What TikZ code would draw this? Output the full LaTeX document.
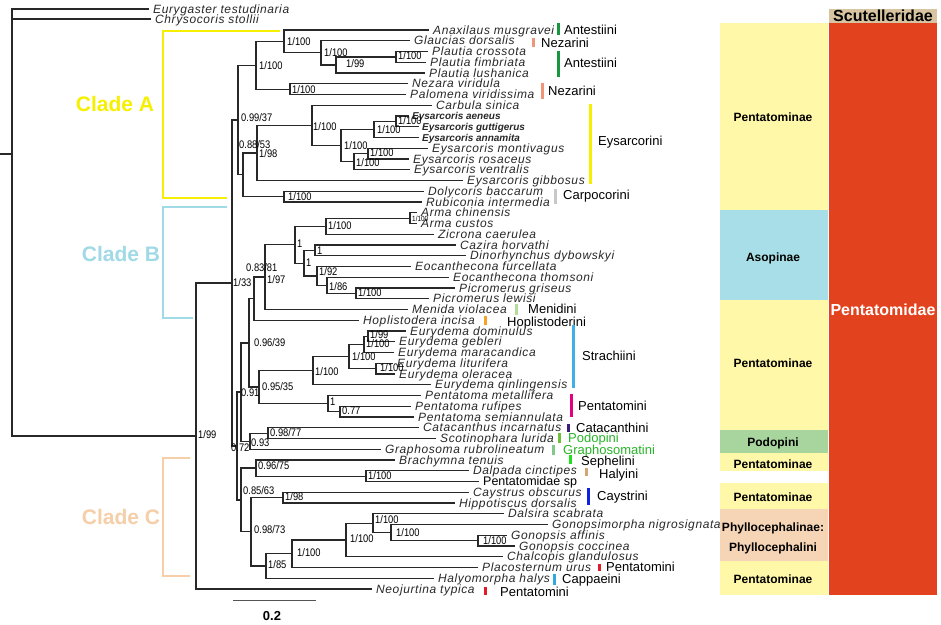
\documentclass[tikz,border=0pt]{standalone}
\usepackage{fontspec}
\setmainfont{Liberation Sans}
\newfontfamily\taxfont[LetterSpace=5]{Liberation Sans}
\newfontfamily\supfont[FakeStretch=0.85]{Liberation Sans}
\definecolor{brc}{RGB}{40,40,40}
\definecolor{txc}{RGB}{40,40,40}
\definecolor{cladeAc}{RGB}{246,240,0}
\definecolor{cladeBc}{RGB}{160,218,230}
\definecolor{cladeCc}{RGB}{246,206,168}
\definecolor{antg}{RGB}{26,150,65}
\definecolor{nezs}{RGB}{240,150,120}
\definecolor{eysy}{RGB}{246,240,0}
\definecolor{carg}{RGB}{200,200,200}
\definecolor{meng}{RGB}{182,220,154}
\definecolor{hopo}{RGB}{245,160,40}
\definecolor{strb}{RGB}{62,176,230}
\definecolor{penm}{RGB}{228,0,126}
\definecolor{catp}{RGB}{58,30,122}
\definecolor{podbar}{RGB}{110,190,60}
\definecolor{grabar}{RGB}{130,200,140}
\definecolor{sepg}{RGB}{30,225,30}
\definecolor{halt}{RGB}{210,168,112}
\definecolor{cayb}{RGB}{16,32,224}
\definecolor{redp}{RGB}{226,26,43}
\definecolor{capb}{RGB}{48,168,224}
\definecolor{gtext}{RGB}{40,180,40}
\definecolor{pyel}{RGB}{255,248,168}
\definecolor{asob}{RGB}{168,222,232}
\definecolor{podbox}{RGB}{168,212,158}
\definecolor{phyl}{RGB}{246,212,182}
\definecolor{scut}{RGB}{216,196,160}
\definecolor{pentr}{RGB}{226,67,30}
\newcommand\mkleaf[4]{\coordinate (#1) at (#2,#3); \node[tx] (#1t) at (#1) {#4};}
\newcommand\mkleafb[4]{\coordinate (#1) at (#2,#3); \node[txb] (#1t) at (#1) {#4};}
\newcommand\mkleafr[4]{\coordinate (#1) at (#2,#3); \node[txr] (#1t) at (#1) {#4};}
\begin{document}
\begin{tikzpicture}[x=1pt,y=-1pt,
  br/.style={line width=1.25pt,draw=brc},
  tx/.style={anchor=base west,inner sep=0pt,xshift=4pt,yshift=-4.2pt,font=\taxfont\itshape\fontsize{12}{14}\selectfont,text=txc},
  txb/.style={anchor=base west,inner sep=0pt,xshift=3pt,yshift=-3.6pt,font=\bfseries\itshape\fontsize{10}{12}\selectfont,text=txc},
  txr/.style={anchor=base west,inner sep=0pt,xshift=4pt,yshift=-4.4pt,font=\fontsize{12.5}{14}\selectfont,text=black},
  sp/.style={anchor=base west,inner sep=0pt,yshift=-3.9pt,font=\supfont\fontsize{11}{12}\selectfont,text=black},
  tribe/.style={anchor=base west,inner sep=0pt,yshift=-4.6pt,font=\fontsize{13}{15}\selectfont,text=black},
  bar/.style={line width=3pt},
  boxlab/.style={anchor=base,inner sep=0pt,yshift=-4.3pt,font=\bfseries\fontsize{12}{14}\selectfont,text=black},
  famlab/.style={anchor=base,inner sep=0pt,yshift=-5.7pt,font=\bfseries\fontsize{16}{18}\selectfont},
  clade/.style={line width=1.5pt},
  cladelab/.style={anchor=base,inner sep=0pt,yshift=-7.6pt,font=\bfseries\fontsize{21}{24}\selectfont}]
\useasboundingbox (0,0) rectangle (941,624);
\fill[white] (0,0) rectangle (941,624);

% ---------- right-hand classification boxes ----------
\fill[pyel] (720,23) rectangle (828,210);
\fill[asob] (720,210) rectangle (828,300);
\fill[pyel] (720,300) rectangle (828,430);
\fill[podbox] (720,430) rectangle (828,453);
\fill[pyel] (720,453) rectangle (828,471);
\fill[pyel] (720,483) rectangle (828,509);
\fill[phyl] (720,509) rectangle (828,561);
\fill[pyel] (720,561) rectangle (828,595);
\fill[scut] (829,9) rectangle (937,23);
\fill[pentr] (829,23) rectangle (937,595);
\node[boxlab] (b1) at (773,117) {Pentatominae};
\node[boxlab] (b2) at (773,257) {Asopinae};
\node[boxlab] (b3) at (773,363) {Pentatominae};
\node[boxlab] (b4) at (773,442) {Podopini};
\node[boxlab] (b5) at (773,464) {Pentatominae};
\node[boxlab] (b6) at (773,497) {Pentatominae};
\node[boxlab] (b7) at (773,527) {Phyllocephalinae:};
\node[boxlab] (b8) at (773,547) {Phyllocephalini};
\node[boxlab] (b9) at (773,579) {Pentatominae};
\node[famlab,text=black] (f1) at (883,16) {Scutelleridae};
\node[famlab,text=white] (f2) at (883,310) {Pentatomidae};

% ---------- leaves ----------
\mkleaf{Eu}{149}{9}{Eurygaster testudinaria}
\mkleaf{Ch}{151}{19}{Chrysocoris stollii}
\mkleaf{L1}{429}{30}{Anaxilaus musgravei}
\mkleaf{L2}{410}{40.75}{Glaucias dorsalis}
\mkleaf{L3}{428}{51.5}{Plautia crossota}
\mkleaf{L4}{426}{62.25}{Plautia fimbriata}
\mkleaf{L5}{425}{73}{Plautia lushanica}
\mkleaf{L6}{408}{83.75}{Nezara viridula}
\mkleaf{L7}{406}{94.5}{Palomena viridissima}
\mkleaf{L8}{432}{105.25}{Carbula sinica}
\mkleafb{L9}{409}{116}{Eysarcoris aeneus}
\mkleafb{L10}{419}{126.75}{Eysarcoris guttigerus}
\mkleafb{L11}{419}{137.5}{Eysarcoris annamita}
\mkleaf{L12}{428}{148.25}{Eysarcoris montivagus}
\mkleaf{L13}{409}{159}{Eysarcoris rosaceus}
\mkleaf{L14}{410}{169.75}{Eysarcoris ventralis}
\mkleaf{L15}{463}{180.5}{Eysarcoris gibbosus}
\mkleaf{L16}{424}{191.25}{Dolycoris baccarum}
\mkleaf{L17}{422}{202}{Rubiconia intermedia}
\mkleaf{L18}{417}{212.75}{Arma chinensis}
\mkleaf{L19}{417}{223.5}{Arma custos}
\mkleaf{L20}{434}{234.25}{Zicrona caerulea}
\mkleaf{L21}{456}{245}{Cazira horvathi}
\mkleaf{L22}{466}{255.75}{Dinorhynchus dybowskyi}
\mkleaf{L23}{411}{266.5}{Eocanthecona furcellata}
\mkleaf{L24}{449}{277.25}{Eocanthecona thomsoni}
\mkleaf{L25}{455}{288}{Picromerus griseus}
\mkleaf{L26}{429}{298.75}{Picromerus lewisi}
\mkleaf{L27}{408}{309.5}{Menida violacea}
\mkleaf{L28}{359}{320.25}{Hoplistodera incisa}
\mkleaf{L29}{406}{331}{Eurydema dominulus}
\mkleaf{L30}{395}{341.75}{Eurydema gebleri}
\mkleaf{L31}{394}{352.5}{Eurydema maracandica}
\mkleaf{L32}{393}{363.25}{Eurydema liturifera}
\mkleaf{L33}{395}{374}{Eurydema oleracea}
\mkleaf{L34}{431}{384.75}{Eurydema qinlingensis}
\mkleaf{L35}{421}{395.5}{Pentatoma metallifera}
\mkleaf{L36}{411}{406.25}{Pentatoma rufipes}
\mkleaf{L37}{414}{417}{Pentatoma semiannulata}
\mkleaf{L38}{419}{427.75}{Catacanthus incarnatus}
\mkleaf{L39}{436}{438.5}{Scotinophara lurida}
\mkleaf{L40}{381}{449.25}{Graphosoma rubrolineatum}
\mkleaf{L41}{395}{460}{Brachymna tenuis}
\mkleaf{L42}{469}{470.75}{Dalpada cinctipes}
\mkleafr{L43}{479}{481.5}{Pentatomidae sp}
\mkleaf{L44}{469}{492.25}{Caystrus obscurus}
\mkleaf{L45}{455}{503}{Hippotiscus dorsalis}
\mkleaf{L46}{504}{513.75}{Dalsira scabrata}
\mkleaf{L47}{548}{524.5}{Gonopsimorpha nigrosignata}
\mkleaf{L48}{507}{535.25}{Gonopsis affinis}
\mkleaf{L49}{515}{546}{Gonopsis coccinea}
\mkleaf{L50}{503}{556.75}{Chalcopis glandulosus}
\mkleaf{L51}{478}{567.5}{Placosternum urus}
\mkleaf{L52}{434}{578.25}{Halyomorpha halys}
\mkleaf{L53}{372}{589}{Neojurtina typica}

% ---------- internal nodes ----------
\coordinate (S) at (0,154);
\coordinate (R) at (12,154);
\coordinate (IN) at (196,436);
\coordinate (N133) at (232,283.01);
\coordinate (NA0) at (238,120.03);
\coordinate (NA1) at (256,65.27);
\coordinate (NA2) at (284,41.42);
\coordinate (N321) at (321,52.84);
\coordinate (N336) at (336,64.94);
\coordinate (NPl) at (396,56.875);
\coordinate (NNez) at (290,89.125);
\coordinate (N088) at (243,174.79);
\coordinate (N098) at (257,152.95);
\coordinate (NEf) at (312,125.41);
\coordinate (NEe) at (341,145.56);
\coordinate (NEb) at (374,129.44);
\coordinate (NEa) at (396,121.375);
\coordinate (NEd) at (354,161.69);
\coordinate (NEc) at (368,153.625);
\coordinate (NDol) at (284,196.625);
\coordinate (N072) at (237,445.99);
\coordinate (N091) at (241,392.04);
\coordinate (N096) at (249,342.89);
\coordinate (N083) at (254,298.67);
\coordinate (N197) at (265,277.08);
\coordinate (NB1) at (295,244.67);
\coordinate (NZic) at (326,226.19);
\coordinate (NArma) at (410,218.125);
\coordinate (NB1b) at (304,263.14);
\coordinate (NCaz) at (315,250.375);
\coordinate (NEoc1) at (317,275.91);
\coordinate (NEoc2) at (327,285.31);
\coordinate (NPic) at (356,293.375);
\coordinate (N095) at (259,387.1);
\coordinate (NEur) at (313,370.64);
\coordinate (NEu4) at (349,356.53);
\coordinate (NEu2) at (364,344.44);
\coordinate (NEu1) at (368,336.375);
\coordinate (NEu3) at (376,368.625);
\coordinate (NPen) at (328,403.56);
\coordinate (NPen1) at (340,411.625);
\coordinate (N093) at (250,441.19);
\coordinate (N098b) at (268,433.125);
\coordinate (N085) at (241,499.94);
\coordinate (N096b) at (256,468.06);
\coordinate (NDal) at (366,476.125);
\coordinate (N098c) at (251,531.81);
\coordinate (NCay) at (283,497.625);
\coordinate (N185) at (266,565.99);
\coordinate (NGon5) at (292,553.73);
\coordinate (NGon4) at (346,539.95);
\coordinate (NGon3) at (373,523.16);
\coordinate (NGon2) at (391,532.56);
\coordinate (NGon) at (478,540.625);

% ---------- branches ----------
\draw[br] (S) -- (R);
\foreach \p/\c in {R/Eu,R/Ch,R/IN,IN/N133,IN/L53,N133/NA0,N133/N072,
  NA0/NA1,NA0/N088,NA1/NA2,NA1/NNez,NA2/L1,NA2/N321,N321/L2,N321/N336,
  N336/NPl,N336/L5,NPl/L3,NPl/L4,NNez/L6,NNez/L7,
  N088/N098,N088/NDol,N098/NEf,N098/L15,NEf/L8,NEf/NEe,NEe/NEb,NEe/NEd,
  NEb/NEa,NEb/L11,NEa/L9,NEa/L10,NEd/NEc,NEd/L14,NEc/L12,NEc/L13,NDol/L16,NDol/L17,
  N072/N091,N072/N085,N091/N096,N091/N093,N096/N083,N096/N095,N083/N197,N083/L28,
  N197/NB1,N197/L27,NB1/NZic,NB1/NB1b,NZic/NArma,NZic/L20,NArma/L18,NArma/L19,
  NB1b/NCaz,NB1b/NEoc1,NCaz/L21,NCaz/L22,NEoc1/L23,NEoc1/NEoc2,NEoc2/L24,NEoc2/NPic,
  NPic/L25,NPic/L26,N095/NEur,N095/NPen,NEur/NEu4,NEur/L34,NEu4/NEu2,NEu4/NEu3,
  NEu2/NEu1,NEu2/L31,NEu1/L29,NEu1/L30,NEu3/L32,NEu3/L33,NPen/L35,NPen/NPen1,
  NPen1/L36,NPen1/L37,N093/N098b,N093/L40,N098b/L38,N098b/L39,
  N085/N096b,N085/N098c,N096b/L41,N096b/NDal,NDal/L42,NDal/L43,N098c/NCay,N098c/N185,
  NCay/L44,NCay/L45,N185/NGon5,N185/L52,NGon5/NGon4,NGon5/L51,NGon4/NGon3,NGon4/L50,
  NGon3/L46,NGon3/NGon2,NGon2/L47,NGon2/NGon,NGon/L48,NGon/L49}
  \draw[br] (\p) |- (\c);

% ---------- support values ----------
\node[sp] (s01) at (198,435) {1/99};
\node[sp] (s02) at (233,283) {1/33};
\node[sp] (s03) at (241,118) {0.99/37};
\node[sp] (s04) at (239,145) {0.88/53};
\node[sp] (s05) at (259,154) {1/98};
\node[sp] (s06) at (259,66) {1/100};
\node[sp] (s07) at (287,42) {1/100};
\node[sp] (s08) at (324,53) {1/100};
\node[sp] (s09) at (346,64) {1/99};
\node[sp] (s10) at (398,56) {1/100};
\node[sp] (s11) at (292,90) {1/100};
\node[sp] (s12) at (313,127) {1/100};
\node[sp] (s13) at (398,121) {1/100};
\node[sp] (s14) at (377,130) {1/100};
\node[sp] (s15) at (370,153) {1/100};
\node[sp] (s16) at (356,163) {1/100};
\node[sp] (s17) at (344,146) {1/100};
\node[sp] (s18) at (288,197) {1/100};
\node[sp,font=\supfont\fontsize{7.5}{9}\selectfont] (s19) at (412,217.5) {1/100};
\node[sp] (s20) at (328,226) {1/100};
\node[sp] (s21) at (297,244) {1};
\node[sp] (s22) at (306,263) {1};
\node[sp] (s23) at (317,251) {1};
\node[sp] (s24) at (319,272) {1/92};
\node[sp] (s25) at (329,287) {1/86};
\node[sp] (s26) at (358,293) {1/100};
\node[sp] (s27) at (246,268) {0.83/81};
\node[sp] (s28) at (267,280) {1/97};
\node[sp] (s29) at (254,343) {0.96/39};
\node[sp] (s30) at (370,335) {1/99};
\node[sp] (s31) at (366,344) {1/100};
\node[sp] (s32) at (380,368) {1/100};
\node[sp] (s33) at (352,357) {1/100};
\node[sp] (s34) at (315,372) {1/100};
\node[sp] (s35) at (262,387) {0.95/35};
\node[sp] (s36) at (330,402) {1};
\node[sp] (s37) at (342,411) {0.77};
\node[sp] (s38) at (241,393) {0.91};
\node[sp] (s39) at (270,433) {0.98/77};
\node[sp] (s40) at (251,443) {0.93};
\node[sp] (s41) at (231,448) {0.72};
\node[sp] (s42) at (258,466) {0.96/75};
\node[sp] (s43) at (368,476) {1/100};
\node[sp] (s44) at (243,491) {0.85/63};
\node[sp] (s45) at (285,497) {1/98};
\node[sp] (s46) at (254,530) {0.98/73};
\node[sp] (s47) at (268,565) {1/85};
\node[sp] (s48) at (297,553) {1/100};
\node[sp] (s49) at (350,539) {1/100};
\node[sp] (s50) at (375,520) {1/100};
\node[sp] (s51) at (396,533) {1/100};
\node[sp] (s52) at (483,541) {1/100};

% ---------- tribe bars and labels ----------
\draw[bar,antg] (558,23) -- (558,35);   \node[tribe] (t01) at (564,30) {Antestiini};
\draw[bar,nezs] (533,38) -- (533,47);   \node[tribe] (t02) at (541,43) {Nezarini};
\draw[bar,antg] (558,51) -- (558,77);   \node[tribe] (t03) at (564,63) {Antestiini};
\draw[bar,nezs] (542,83) -- (542,99);   \node[tribe] (t04) at (548,91) {Nezarini};
\draw[bar,eysy] (590,104) -- (590,184); \node[tribe] (t05) at (598,141) {Eysarcorini};
\draw[bar,carg] (555,189) -- (555,204); \node[tribe] (t06) at (563,195) {Carpocorini};
\draw[bar,meng] (516,304) -- (516,315); \node[tribe] (t07) at (528,309) {Menidini};
\draw[bar,hopo] (485,316) -- (485,325); \node[tribe] (t08) at (507,322) {Hoplistoderini};
\draw[bar,strb] (573,325) -- (573,388); \node[tribe] (t09) at (582,356) {Strachiini};
\draw[bar,penm] (571,394) -- (571,417); \node[tribe] (t10) at (578,406) {Pentatomini};
\draw[bar,catp] (568,424) -- (568,432); \node[tribe] (t11) at (576,428) {Catacanthini};
\draw[bar,podbar] (559,433) -- (559,443); \node[tribe,text=gtext] (t12) at (568,438) {Podopini};
\draw[bar,grabar] (553,445) -- (553,455); \node[tribe,text=gtext] (t13) at (563,450) {Graphosomatini};
\draw[bar,sepg] (570,455) -- (570,464); \node[tribe] (t14) at (581,461) {Sephelini};
\draw[bar,halt] (586,468) -- (586,476); \node[tribe] (t15) at (599,474) {Halyini};
\draw[bar,cayb] (588,488) -- (588,505); \node[tribe] (t16) at (597,496) {Caystrini};
\draw[bar,redp] (599,564) -- (599,571); \node[tribe] (t17) at (606,567) {Pentatomini};
\draw[bar,capb] (554,574) -- (554,585); \node[tribe] (t18) at (562,579) {Cappaeini};
\draw[bar,redp] (485,587) -- (485,595); \node[tribe] (t19) at (500,592) {Pentatomini};

% ---------- clade brackets ----------
\draw[clade,cladeAc] (280,31) -- (163,31) -- (163,198) -- (227,198);
\node[cladelab,text=cladeAc] (cA) at (115,104) {Clade A};
\draw[clade,cladeBc] (227,207) -- (163,207) -- (163,318) -- (193,318);
\node[cladelab,text=cladeBc] (cB) at (121,254) {Clade B};
\draw[clade,cladeCc] (190,458) -- (163,458) -- (163,576) -- (190,576);
\node[cladelab,text=cladeCc] (cC) at (121,517) {Clade C};

% ---------- scale bar ----------
\coordinate (sb1) at (233,600);
\coordinate (sb2) at (316,600);
\draw[line width=1pt,draw=brc!80] (sb1) -- (sb2);
\node[anchor=base,inner sep=0pt,yshift=-4.6pt,font=\bfseries\fontsize{13}{15}\selectfont] (sbl) at (272,616) {0.2};
\end{tikzpicture}
\end{document}
